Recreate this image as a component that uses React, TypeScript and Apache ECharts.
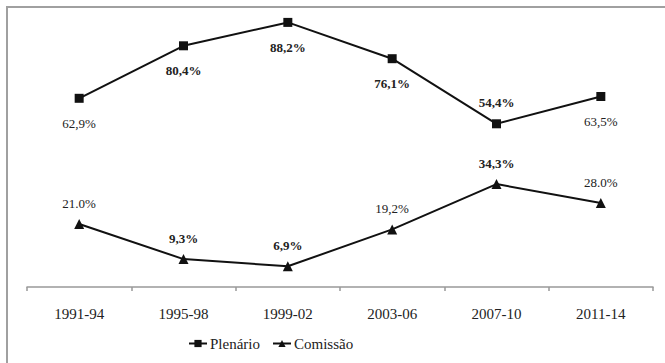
import React, { useEffect, useRef } from "react";
import * as echarts from "echarts";

const categories = ["1991-94", "1995-98", "1999-02", "2003-06", "2007-10", "2011-14"];
const plenarioValues = [62.9, 80.4, 88.2, 76.1, 54.4, 63.5];
const comissaoValues = [21.0, 9.3, 6.9, 19.2, 34.3, 28.0];
const plenarioLabels = ["62,9%", "80,4%", "88,2%", "76,1%", "54,4%", "63,5%"];
const comissaoLabels = ["21.0%", "9,3%", "6,9%", "19,2%", "34,3%", "28.0%"];
const plenarioBold = [false, true, true, true, true, false];
const comissaoBold = [false, true, true, false, true, false];
const plenarioPos = ["bottom", "bottom", "bottom", "bottom", "top", "bottom"];

const FONT = "Liberation Serif, Times New Roman, serif";

export default function App() {
  const ref = useRef<HTMLDivElement>(null);
  useEffect(() => {
    if (!ref.current) return;
    const chart = echarts.init(ref.current, null, { renderer: "svg" });
    const plData = plenarioValues.map((v, i) => ({
      value: v,
      label: {
        position: plenarioPos[i],
        distance: plenarioPos[i] === "top" ? 10 : 14,
        fontWeight: plenarioBold[i] ? "bold" : "normal",
        formatter: () => plenarioLabels[i],
      },
    }));
    const coData = comissaoValues.map((v, i) => ({
      value: v,
      label: {
        position: "top",
        distance: 9,
        fontWeight: comissaoBold[i] ? "bold" : "normal",
        formatter: () => comissaoLabels[i],
      },
    }));
    chart.setOption({
      animation: false,
      backgroundColor: "#ffffff",
      textStyle: { fontFamily: FONT },
      grid: { left: 27, right: 12, top: 17, bottom: 76, containLabel: false },
      graphic: [
        {
          type: "rect",
          shape: { x: 7, y: 7, width: 720, height: 420 },
          style: { fill: "none", stroke: "#a0a0a0", lineWidth: 2 },
          silent: true,
          z: 100,
        },
      ],
      legend: {
        left: 183,
        top: 331,
        itemWidth: 18,
        itemHeight: 9,
        itemGap: 12,
        textStyle: { fontFamily: FONT, fontSize: 15, color: "#222", padding: [0, 0, 0, -2] },
        data: ["Plenário", "Comissão"],
      },
      xAxis: {
        type: "category",
        data: categories,
        boundaryGap: true,
        axisLine: { show: true, onZero: false, lineStyle: { color: "#999999", width: 1.5 } },
        axisTick: { show: true, length: 4, lineStyle: { color: "#999999", width: 1.5 } },
        axisLabel: { fontFamily: FONT, fontSize: 15, color: "#222", margin: 19 },
      },
      yAxis: {
        type: "value",
        min: 0,
        max: 90,
        axisLine: { show: false },
        axisTick: { show: false },
        axisLabel: { show: false },
        splitLine: { show: false },
      },
      series: [
        {
          name: "Plenário",
          type: "line",
          data: plData,
          symbol: "rect",
          symbolSize: 9,
          lineStyle: { color: "#111", width: 2 },
          itemStyle: { color: "#111" },
          label: { show: true, fontFamily: FONT, fontSize: 13, color: "#222" },
        },
        {
          name: "Comissão",
          type: "line",
          data: coData,
          symbol: "triangle",
          symbolSize: 10,
          lineStyle: { color: "#111", width: 2 },
          itemStyle: { color: "#111" },
          label: { show: true, fontFamily: FONT, fontSize: 13, color: "#222" },
        },
      ],
    });
    return () => chart.dispose();
  }, []);
  return (
    <div
      ref={ref}
      style={{ position: "absolute", left: 0, top: 0, width: 665, height: 363, background: "#fff" }}
    />
  );
}
